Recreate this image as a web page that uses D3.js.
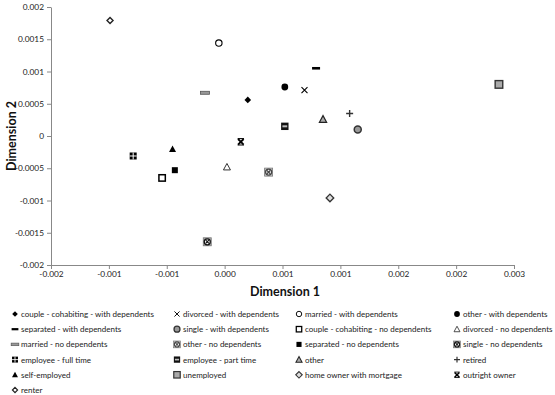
<!DOCTYPE html>
<html>
<head>
<meta charset="utf-8">
<script src="https://cdn.jsdelivr.net/npm/d3@7"></script>
<style>
  body { margin: 0; background: #fff; }
  svg { font-family: Lato, "Open Sans", sans-serif; }
</style>
</head>
<body>
<svg id="chart" width="555" height="395"></svg>
<script>
// categories, in legend order
var categories = [
    "couple - cohabiting  - with dependents", "divorced - with dependents", "married - with dependents", "other - with dependents",
    "separated - with dependents", "single - with dependents", "couple - cohabiting - no dependents", "divorced - no dependents",
    "married - no dependents", "other - no dependents", "separated - no dependents", "single - no dependents",
    "employee - full time", "employee - part time", "other", "retired",
    "self-employed", "unemployed", "home owner with mortgage", "outright owner",
    "renter"
];
var dim1 = [
    0.00020, 0.00069, -0.00005, 0.00052,
    0.00079, 0.00115, -0.00054, 0.00002,
    -0.00017, 0.00038, -0.00043, -0.00015,
    -0.00079, 0.00052, 0.00085, 0.00108,
    -0.00045, 0.00237, 0.00091, 0.00014,
    -0.00099
];
var dim2 = [
    0.00056, 0.00071, 0.00144, 0.00076,
    0.00105, 0.00010, -0.00065, -0.00048,
    0.00067, -0.00056, -0.00053, -0.00164,
    -0.00031, 0.00015, 0.00026, 0.00035,
    -0.00020, 0.00080, -0.00096, -0.00009,
    0.00179
];
var xTicks = [-0.0015, -0.001, -0.0005, 0, 0.0005, 0.001, 0.0015, 0.002, 0.0025];
var xTickLabels = ["-0.002", "-0.001", "-0.001", "0.000", "0.001", "0.001", "0.002", "0.002", "0.003"];
var yTicks = [-0.002, -0.0015, -0.001, -0.0005, 0, 0.0005, 0.001, 0.0015, 0.002];
var yTickLabels = ["-0.002", "-0.0015", "-0.001", "-0.0005", "0", "0.0005", "0.001", "0.0015", "0.002"];

var svg = d3.select("#chart");
var x = d3.scaleLinear().domain([-0.0015, 0.0025]).range([51, 514]);
var y = d3.scaleLinear().domain([-0.002, 0.002]).range([265, 7]);

// one drawing function per category (Excel style markers)
function diamond(s) { return "M0," + (-s) + "L" + s + ",0L0," + s + "L" + (-s) + ",0Z"; }
function tri(s) { return "M0," + (-s) + "L" + s + "," + (s * 0.85) + "L" + (-s) + "," + (s * 0.85) + "Z"; }
function boxCircle(g, fill, dark) {
    g.append("rect").attr("x", -4).attr("y", -4).attr("width", 8).attr("height", 8)
        .attr("fill", fill).attr("stroke", "#777").attr("stroke-width", 0.8);
    g.append("circle").attr("r", 3).attr("fill", "#fff").attr("stroke", dark).attr("stroke-width", 1.3);
    g.append("path").attr("d", "M-1.6,-1.6L1.6,1.6M1.6,-1.6L-1.6,1.6").attr("stroke", dark).attr("stroke-width", 1.2);
}
var markers = [
    g => g.append("path").attr("d", diamond(3.3)).attr("fill", "#000"),
    g => g.append("path").attr("d", "M-3,-3L3,3M3,-3L-3,3").attr("stroke", "#000").attr("stroke-width", 1.1),
    g => g.append("circle").attr("r", 3.2).attr("fill", "#fff").attr("stroke", "#000").attr("stroke-width", 1.1),
    g => g.append("circle").attr("r", 3.4).attr("fill", "#000"),
    g => g.append("rect").attr("x", -4).attr("y", -1.3).attr("width", 8).attr("height", 2.6).attr("fill", "#000"),
    g => g.append("circle").attr("r", 3.5).attr("fill", "#999").attr("stroke", "#333").attr("stroke-width", 1.5),
    g => g.append("rect").attr("x", -3.2).attr("y", -3.2).attr("width", 6.4).attr("height", 6.4)
            .attr("fill", "#fff").attr("stroke", "#000").attr("stroke-width", 1.5),
    g => g.append("path").attr("d", tri(3.5)).attr("fill", "#fff").attr("stroke", "#333").attr("stroke-width", 1),
    g => g.append("rect").attr("x", -4.5).attr("y", -1.5).attr("width", 9).attr("height", 3)
            .attr("fill", "#999").attr("stroke", "#555").attr("stroke-width", 0.8),
    g => boxCircle(g, "#ccc", "#444"),
    g => g.append("rect").attr("x", -3).attr("y", -3).attr("width", 6).attr("height", 6).attr("fill", "#000"),
    g => boxCircle(g, "#aaa", "#111"),
    g => {
        g.append("rect").attr("x", -3.5).attr("y", -3.5).attr("width", 7).attr("height", 7).attr("fill", "#000");
        g.append("path").attr("d", "M-3.5,0H3.5M0,-3.5V3.5").attr("stroke", "#fff").attr("stroke-width", 1);
    },
    g => {
        g.append("rect").attr("x", -3.7).attr("y", -3.7).attr("width", 7.4).attr("height", 7.4).attr("fill", "#111");
        g.append("rect").attr("x", -2.4).attr("y", -1).attr("width", 4.8).attr("height", 2).attr("fill", "#bbb");
    },
    g => g.append("path").attr("d", tri(3.6)).attr("fill", "#aaa").attr("stroke", "#222").attr("stroke-width", 1.2),
    g => g.append("path").attr("d", "M-3.5,0H3.5M0,-3.5V3.5").attr("stroke", "#333").attr("stroke-width", 1.4),
    g => g.append("path").attr("d", tri(3.5)).attr("fill", "#000"),
    g => g.append("rect").attr("x", -3.8).attr("y", -3.8).attr("width", 7.6).attr("height", 7.6)
            .attr("fill", "#aaa").attr("stroke", "#333").attr("stroke-width", 1.4),
    g => g.append("path").attr("d", diamond(3.8)).attr("fill", "#ddd").attr("stroke", "#333").attr("stroke-width", 1.3),
    g => {
        g.append("path").attr("d", "M-2.8,-2.8L2.8,2.8M2.8,-2.8L-2.8,2.8").attr("stroke", "#000").attr("stroke-width", 1.8);
        g.append("path").attr("d", "M-3.2,-3.2H3.2M-3.2,3.2H3.2").attr("stroke", "#000").attr("stroke-width", 1);
    },
    g => g.append("path").attr("d", diamond(3)).attr("fill", "#fff").attr("stroke", "#222").attr("stroke-width", 1.4)
];

// axes
var xAxis = svg.append("g").attr("transform", "translate(0,265)")
    .call(d3.axisBottom(x).tickValues(xTicks).tickSize(4).tickSizeOuter(0)
        .tickFormat((d, i) => xTickLabels[i]));
var yAxis = svg.append("g").attr("transform", "translate(51,0)")
    .call(d3.axisLeft(y).tickValues(yTicks).tickSize(4).tickSizeOuter(0)
        .tickFormat((d, i) => yTickLabels[i]));
[xAxis, yAxis].forEach(a => {
    a.selectAll("path, line").attr("stroke", "#888");
    a.selectAll("text").attr("font-size", 8.3).attr("fill", "#222").style("font-family", "Lato, sans-serif");
});
xAxis.selectAll("text").attr("dy", "0.6em");

svg.append("text").attr("x", 285).attr("y", 296).attr("text-anchor", "middle")
    .attr("font-size", 12.5).attr("font-weight", "bold").attr("fill", "#111").text("Dimension 1");
svg.append("text").attr("transform", "translate(16,136) rotate(-90)").attr("text-anchor", "middle")
    .attr("font-size", 12.5).attr("font-weight", "bold").attr("fill", "#111").text("Dimension 2");

// points
categories.forEach((c, i) => {
    var g = svg.append("g").attr("transform", "translate(" + x(dim1[i]) + "," + y(dim2[i]) + ")");
    markers[i](g);
});

// legend, 4 per row
var colX = [15, 177, 299, 457];
categories.forEach((c, i) => {
    var col = i % 4, row = Math.floor(i / 4);
    var g = svg.append("g").attr("transform", "translate(" + colX[col] + "," + (314 + row * 15.2) + ")");
    var m = g.append("g").attr("transform", "scale(0.85)");
    markers[i](m);
    g.append("text").attr("x", 6).attr("y", 3).attr("font-size", 8).attr("fill", "#222").text(c);
});
</script>
</body>
</html>
